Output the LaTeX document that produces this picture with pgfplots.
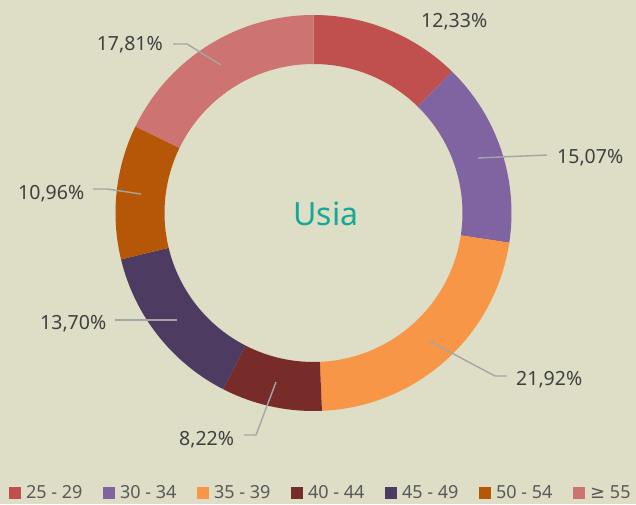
\documentclass[border=0pt]{standalone}
\usepackage{pgfplots}
\pgfplotsset{compat=1.18}
\usepackage{pgfplotstable}
\usepackage{fontspec}
\setmainfont{Noto Sans}
\newfontfamily\symfont{DejaVu Sans}
\definecolor{bg}{HTML}{DEDDC6}
\definecolor{s0}{HTML}{C0504D}
\definecolor{s1}{HTML}{8064A2}
\definecolor{s2}{HTML}{F79646}
\definecolor{s3}{HTML}{772C2A}
\definecolor{s4}{HTML}{4D3B62}
\definecolor{s5}{HTML}{B65708}
\definecolor{s6}{HTML}{CD7371}
\definecolor{lbl}{HTML}{404040}
\definecolor{leg}{HTML}{595959}
\definecolor{lead}{HTML}{A5A5A5}
\definecolor{usia}{HTML}{14A896}

% share of each age group (percent), clockwise from 12 o'clock
\pgfplotstableread{
pct
12.33
15.07
21.92
8.22
13.70
10.96
17.81
}\agedata

\begin{document}
\begin{tikzpicture}
\gdef\cumA{0}
\foreach \i in {0,...,6}{%
  \pgfplotstablegetelem{\i}{pct}\of\agedata
  \pgfmathsetmacro\segS{90-\cumA*3.6}%
  \pgfmathsetmacro\newcum{\cumA+\pgfplotsretval}%
  \pgfmathsetmacro\segE{90-\newcum*3.6}%
  \expandafter\xdef\csname sa\i\endcsname{\segS}%
  \expandafter\xdef\csname ea\i\endcsname{\segE}%
  \xdef\cumA{\newcum}%
}
\begin{axis}[
  x=1pt, y=1pt, xmin=0, xmax=636, ymin=0, ymax=504,
  hide axis, anchor=origin, at={(0,0)},
  legend image code/.code={\fill[#1, draw=none] (0pt,-6pt) rectangle (12pt,6pt);},
  legend style={at={(axis cs:9,11)}, anchor=west, draw=none, fill=none,
    inner sep=0pt, font=\fontsize{18}{20}\selectfont, text=leg,
    /tikz/every odd column/.append style={column sep=3pt}},
  legend columns=-1,
]
\fill[bg] (axis cs:0,0) rectangle (axis cs:636,504);
\pgfplotsinvokeforeach{0,...,6}{%
  \fill[s#1] ([shift={(\csname sa#1\endcsname:198pt)}]axis cs:313.5,291)
     arc[start angle=\csname sa#1\endcsname, end angle=\csname ea#1\endcsname, radius=198pt]
     -- ([shift={(\csname ea#1\endcsname:149pt)}]axis cs:313.5,291)
     arc[start angle=\csname ea#1\endcsname, end angle=\csname sa#1\endcsname, radius=149pt]
     -- cycle;
}
\addlegendimage{fill=s0, draw=none}\addlegendentry{\makebox[75pt][l]{25 - 29}}
\addlegendimage{fill=s1, draw=none}\addlegendentry{\makebox[75pt][l]{30 - 34}}
\addlegendimage{fill=s2, draw=none}\addlegendentry{\makebox[75pt][l]{35 - 39}}
\addlegendimage{fill=s3, draw=none}\addlegendentry{\makebox[75pt][l]{40 - 44}}
\addlegendimage{fill=s4, draw=none}\addlegendentry{\makebox[75pt][l]{45 - 49}}
\addlegendimage{fill=s5, draw=none}\addlegendentry{\makebox[75pt][l]{50 - 54}}
\addlegendimage{fill=s6, draw=none}\addlegendentry{\makebox[40pt][l]{{\symfont ≥} 55}}

% leader lines
\draw[lead, line width=1.4pt] (axis cs:173,460) -- (axis cs:187,460) -- (axis cs:221,439);
\draw[lead, line width=1.4pt] (axis cs:478,346) -- (axis cs:547,349);
\draw[lead, line width=1.4pt] (axis cs:429,163) -- (axis cs:495,128) -- (axis cs:507,128);
\draw[lead, line width=1.4pt] (axis cs:276,122) -- (axis cs:256,69) -- (axis cs:244,69);
\draw[lead, line width=1.4pt] (axis cs:115,184) -- (axis cs:177,184);
\draw[lead, line width=1.4pt] (axis cs:93,315) -- (axis cs:107,315) -- (axis cs:141,310);

% data labels
\begin{scope}[every node/.style={inner sep=0pt, text=lbl, font=\fontsize{19.5}{22}\selectfont}]
\node[anchor=base west] at (axis cs:421,476) {12,33\%};
\node[anchor=base west] at (axis cs:557,340) {15,07\%};
\node[anchor=base west] at (axis cs:516,119) {21,92\%};
\node[anchor=base west] at (axis cs:179,59) {8,22\%};
\node[anchor=base west] at (axis cs:40,175) {13,70\%};
\node[anchor=base west] at (axis cs:18,305) {10,96\%};
\node[anchor=base east] at (axis cs:163,453) {17,81\%};
\end{scope}
\node[anchor=base, inner sep=0pt, text=usia, font=\fontsize{32}{36}\selectfont] at (axis cs:326,278.5) {Usia};
\end{axis}
\pgfresetboundingbox
\path[use as bounding box] (0,0) rectangle (636pt,504pt);
\end{tikzpicture}
\end{document}
